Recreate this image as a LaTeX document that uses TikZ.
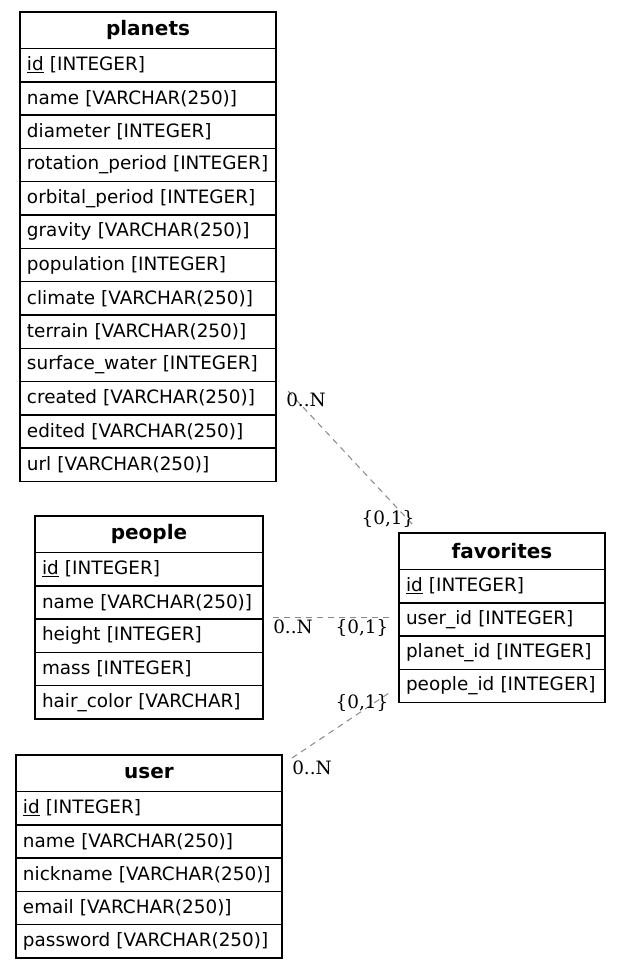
\documentclass[tikz,border=0pt]{standalone}
\usepackage{fontspec}
\setmainfont{DejaVu Sans}
\newfontfamily\cardfamily{DejaVu Serif}
\usetikzlibrary{positioning}
\definecolor{relgray}{HTML}{888888}
\newcommand{\rowfont}{\fontsize{18.4}{22}\selectfont}
\newcommand{\headfont}{\fontsize{20}{24}\selectfont\bfseries}
\newcommand{\cardfont}{\fontsize{18.4}{22}\selectfont\cardfamily}

\begin{document}
\begin{tikzpicture}[
  x=1pt,
  y=-1pt,
  tablehead/.style={draw, line width=1.4pt, outer sep=0pt, inner xsep=7pt, inner ysep=0pt, minimum height=36.5pt, text width=#1, align=center, font=\headfont},
  tablerow/.style={draw, line width=1.4pt, outer sep=0pt, inner xsep=7pt, inner ysep=0pt, minimum height=33.3pt, text width=#1, align=left, font=\rowfont},
  relline/.style={color=relgray, line width=1pt, dash pattern=on 6pt off 5pt},
  card/.style={font=\cardfont, inner sep=0pt, anchor=base}
]
\path[use as bounding box, fill=white] (0,0) rectangle (621,969);

\node[tablehead=242pt, anchor=north west] (pl0) at (20,12) {planets};
\node[tablerow=242pt, below=0pt of pl0] (pl1) {\underline{id} [INTEGER]};
\node[tablerow=242pt, below=0pt of pl1] (pl2) {name [VARCHAR(250)]};
\node[tablerow=242pt, below=0pt of pl2] (pl3) {diameter [INTEGER]};
\node[tablerow=242pt, below=0pt of pl3] (pl4) {rotation\_period [INTEGER]};
\node[tablerow=242pt, below=0pt of pl4] (pl5) {orbital\_period [INTEGER]};
\node[tablerow=242pt, below=0pt of pl5] (pl6) {gravity [VARCHAR(250)]};
\node[tablerow=242pt, below=0pt of pl6] (pl7) {population [INTEGER]};
\node[tablerow=242pt, below=0pt of pl7] (pl8) {climate [VARCHAR(250)]};
\node[tablerow=242pt, below=0pt of pl8] (pl9) {terrain [VARCHAR(250)]};
\node[tablerow=242pt, below=0pt of pl9] (pl10) {surface\_water [INTEGER]};
\node[tablerow=242pt, below=0pt of pl10] (pl11) {created [VARCHAR(250)]};
\node[tablerow=242pt, below=0pt of pl11] (pl12) {edited [VARCHAR(250)]};
\node[tablerow=242pt, below=0pt of pl12] (pl13) {url [VARCHAR(250)]};

\node[tablehead=214pt, anchor=north west] (pe0) at (35,516) {people};
\node[tablerow=214pt, below=0pt of pe0] (pe1) {\underline{id} [INTEGER]};
\node[tablerow=214pt, below=0pt of pe1] (pe2) {name [VARCHAR(250)]};
\node[tablerow=214pt, below=0pt of pe2] (pe3) {height [INTEGER]};
\node[tablerow=214pt, below=0pt of pe3] (pe4) {mass [INTEGER]};
\node[tablerow=214pt, below=0pt of pe4] (pe5) {hair\_color [VARCHAR]};

\node[tablehead=252pt, anchor=north west] (us0) at (16,755) {user};
\node[tablerow=252pt, below=0pt of us0] (us1) {\underline{id} [INTEGER]};
\node[tablerow=252pt, below=0pt of us1] (us2) {name [VARCHAR(250)]};
\node[tablerow=252pt, below=0pt of us2] (us3) {nickname [VARCHAR(250)]};
\node[tablerow=252pt, below=0pt of us3] (us4) {email [VARCHAR(250)]};
\node[tablerow=252pt, below=0pt of us4] (us5) {password [VARCHAR(250)]};

\node[tablehead=192pt, anchor=north west] (fa0) at (399,533) {favorites};
\node[tablerow=192pt, below=0pt of fa0] (fa1) {\underline{id} [INTEGER]};
\node[tablerow=192pt, below=0pt of fa1] (fa2) {user\_id [INTEGER]};
\node[tablerow=192pt, below=0pt of fa2] (fa3) {planet\_id [INTEGER]};
\node[tablerow=192pt, below=0pt of fa3] (fa4) {people\_id [INTEGER]};

\coordinate (plout) at (288,391);
\coordinate (fain1) at (413,525);
\coordinate (peout) at (273,617);
\coordinate (fain2) at (389,617);
\coordinate (usout) at (292,758);
\coordinate (fain3) at (389,693);
\draw[relline] (plout) -- (fain1);
\draw[relline] (peout) -- (fain2);
\draw[relline] (usout) -- (fain3);

\node[card] (c1) at (306,406) {0..N};
\node[card] (c2) at (388,524) {\{0,1\}};
\node[card] (c3) at (293,633) {0..N};
\node[card] (c4) at (362,633) {\{0,1\}};
\node[card] (c5) at (362,708) {\{0,1\}};
\node[card] (c6) at (312,774) {0..N};
\end{tikzpicture}
\end{document}
